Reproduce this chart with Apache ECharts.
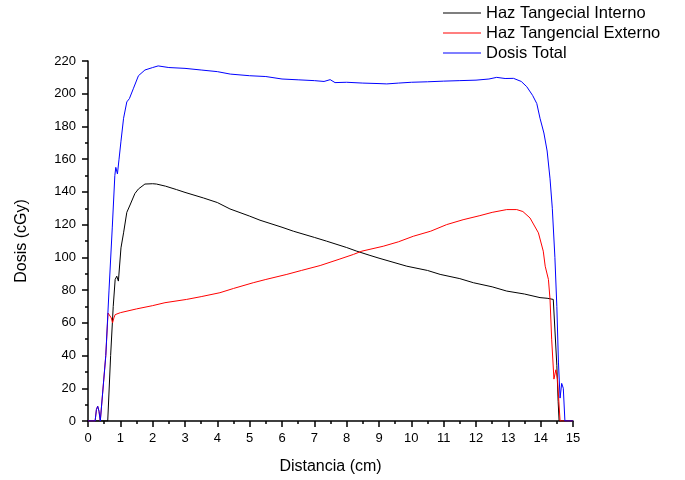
<!DOCTYPE html>
<html>
<head>
<meta charset="utf-8">
<script src="https://cdn.jsdelivr.net/npm/echarts@6/dist/echarts.min.js"></script>
<style>html,body{margin:0;padding:0;background:#fff}#c{width:685px;height:480px}</style>
</head>
<body>
<div id="c"></div>
<script>
var seriesNames = ['Haz Tangecial Interno', 'Haz Tangencial Externo', 'Dosis Total'];

var interX = [0, 0.61, 0.7, 0.78, 0.84, 0.89, 0.94, 1.02, 1.1, 1.2, 1.3, 1.45, 1.56, 1.76, 2.0, 2.12, 2.4, 2.74, 3.0, 3.57, 4.0, 4.39, 5.0, 5.32, 6.0, 6.35, 7.0, 7.38, 8.0, 8.31, 8.72, 9.0, 9.86, 10.5, 10.89, 11.5, 11.92, 12.5, 12.95, 13.5, 13.98, 14.2, 14.39, 14.45, 14.5, 14.54, 14.57, 15];
var interY = [0, 0, 40, 70, 86.5, 88.5, 85.5, 105.8, 115, 127.5, 132, 139, 141.8, 144.8, 145, 144.8, 143.5, 141.4, 139.7, 136.3, 133.5, 129.6, 125.2, 122.7, 118.4, 116, 112.2, 109.9, 106, 103.8, 101.2, 99.5, 94.6, 92, 89.6, 87, 84.5, 82, 79.4, 77.6, 75.4, 75, 74.3, 73.5, 34, 12, 0, 0];

var externX = [0, 0.22, 0.26, 0.3, 0.34, 0.38, 0.44, 0.55, 0.62, 0.66, 0.72, 0.76, 0.8, 0.84, 1.0, 1.5, 2.0, 2.38, 3.05, 3.5, 4.08, 4.5, 5.11, 5.5, 6.15, 6.6, 7.18, 7.79, 8.21, 8.47, 9.13, 9.6, 10.06, 10.6, 11.09, 11.6, 12.12, 12.5, 12.95, 13.26, 13.45, 13.67, 13.93, 14.08, 14.14, 14.24, 14.29, 14.34, 14.41, 14.47, 14.52, 14.6, 15];
var externY = [0, 0, 7, 9, 6, 0, 0, 40, 66, 66, 63, 60, 63, 65, 66.2, 68.5, 70.5, 72.3, 74.3, 76, 78.4, 81, 84.5, 86.5, 89.6, 92, 95, 99, 101.8, 103.8, 106.8, 109.5, 112.9, 116, 120, 123, 125.5, 127.5, 129.2, 129.2, 128, 124.1, 115, 103.8, 94.6, 86.5, 74.3, 50, 25.6, 31.3, 25.6, 0, 0];

var totalX = [0, 0.22, 0.26, 0.3, 0.34, 0.38, 0.44, 0.55, 0.65, 0.75, 0.83, 0.86, 0.91, 0.96, 1.02, 1.1, 1.2, 1.28, 1.4, 1.56, 1.76, 2.0, 2.17, 2.5, 3.0, 3.5, 4.0, 4.4, 5.0, 5.5, 6.0, 6.5, 7.0, 7.3, 7.49, 7.64, 8.0, 8.5, 9.0, 9.24, 9.6, 10.0, 10.5, 11.0, 11.5, 12.0, 12.4, 12.64, 12.9, 13.16, 13.4, 13.57, 13.75, 13.88, 13.98, 14.1, 14.2, 14.29, 14.36, 14.44, 14.5, 14.55, 14.6, 14.65, 14.7, 14.75, 15];
var totalY = [0, 0, 7, 9, 6, 0, 0, 40, 80, 118, 150, 155, 151, 160, 171, 185, 195, 197, 203, 211, 214.5, 216, 217, 216, 215.5, 214.5, 213.5, 212, 211, 210.5, 209, 208.5, 208, 207.5, 208.6, 206.8, 207, 206.5, 206.2, 206, 206.5, 207, 207.3, 207.7, 208, 208.3, 209, 210, 209.3, 209.4, 207.5, 204.3, 199, 194, 185, 176, 165, 148, 130, 100, 70, 36, 14, 23, 20, 0, 0];

var xTicks = {min: 0, max: 15, interval: 1};
var yTicks = {min: 0, max: 220, interval: 20};

function pairs(xs, ys) { return xs.map(function (x, i) { return [x, ys[i]]; }); }

var chart = echarts.init(document.getElementById('c'));
var font = 'Liberation Sans, Arial, sans-serif';
var axisCommon = {
  type: 'value',
  nameLocation: 'middle',
  nameTextStyle: {fontFamily: font, fontSize: 16, color: '#000'},
  axisLine: {show: true, onZero: false, lineStyle: {color: '#000', width: 1.5}},
  axisTick: {show: true, inside: false, length: 6, lineStyle: {color: '#000', width: 1.5}},
  minorTick: {show: true, splitNumber: 2, length: 3, lineStyle: {color: '#000', width: 1.5}},
  splitLine: {show: false},
  axisLabel: {fontFamily: font, fontSize: 13, color: '#000'}
};
chart.setOption({
  animation: false,
  backgroundColor: '#fff',
  grid: {left: 88, right: 112, top: 61, bottom: 58, containLabel: false},
  legend: {
    data: seriesNames,
    orient: 'vertical',
    left: 443, top: 3, padding: 0,
    icon: 'rect', itemWidth: 38, itemHeight: 1, itemGap: 0,
    textStyle: {fontFamily: font, fontSize: 16.5, color: '#000', lineHeight: 20, padding: [0, 0, 0, 0]}
  },
  xAxis: Object.assign({}, axisCommon, {
    name: 'Distancia (cm)', nameGap: 38,
    min: xTicks.min, max: xTicks.max, interval: xTicks.interval,
    axisLabel: Object.assign({}, axisCommon.axisLabel, {margin: 11})
  }),
  yAxis: Object.assign({}, axisCommon, {
    name: 'Dosis (cGy)', nameGap: 58,
    min: yTicks.min, max: yTicks.max, interval: yTicks.interval,
    axisLabel: Object.assign({}, axisCommon.axisLabel, {margin: 12})
  }),
  series: [
    {name: seriesNames[0], type: 'line', data: pairs(interX, interY), showSymbol: false, symbol: 'none', lineStyle: {color: '#000000', width: 1}, itemStyle: {color: '#000000'}},
    {name: seriesNames[1], type: 'line', data: pairs(externX, externY), showSymbol: false, symbol: 'none', lineStyle: {color: '#ff0000', width: 1}, itemStyle: {color: '#ff0000'}},
    {name: seriesNames[2], type: 'line', data: pairs(totalX, totalY), showSymbol: false, symbol: 'none', lineStyle: {color: '#0000ff', width: 1}, itemStyle: {color: '#0000ff'}}
  ]
});
</script>
</body>
</html>
